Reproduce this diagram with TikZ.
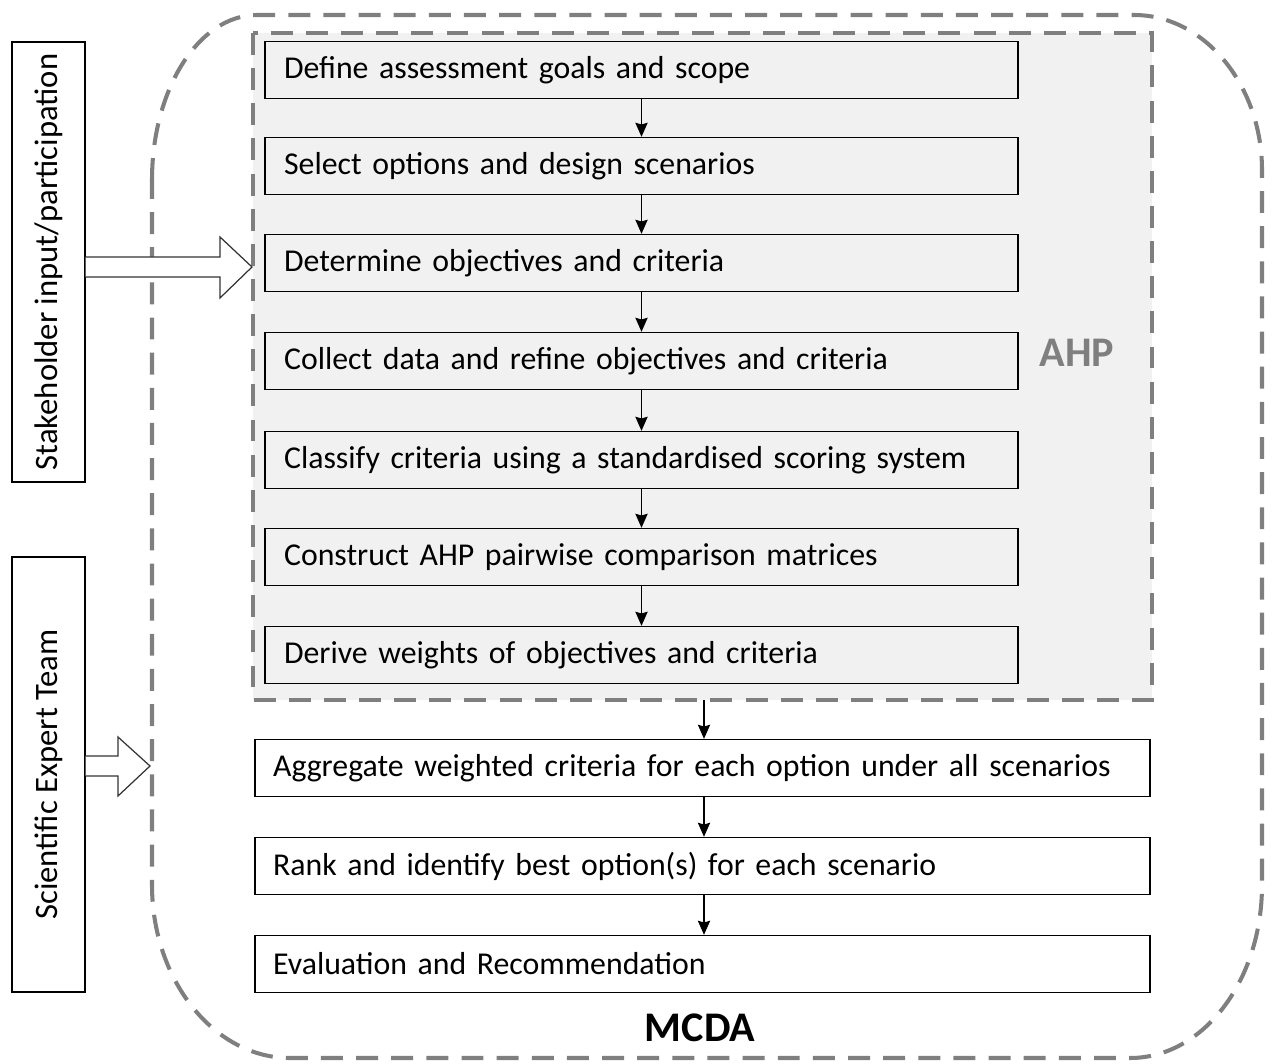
\documentclass[tikz,border=0pt]{standalone}
\usepackage{fontspec}
\setmainfont{Carlito}
\usetikzlibrary{arrows.meta,calc}
\definecolor{dgray}{HTML}{7F7F7F}
\definecolor{ahpfill}{HTML}{F1F1F1}
\begin{document}
\begin{tikzpicture}[x=0.02cm,y=-0.02cm,
  txt/.style={font=\fontsize{18.1}{21}\selectfont},
  sidetxt/.style={font=\fontsize{18.6}{21}\selectfont},
  ahpbox/.style={draw=black,line width=0.8pt,fill=ahpfill,minimum width=15.06cm,minimum height=1.14cm,text width=15.06cm-0.76cm,inner xsep=0.38cm,align=left,txt},
  lowbox/.style={draw=black,line width=0.8pt,fill=white,minimum width=17.9cm,minimum height=1.14cm,text width=17.9cm-0.72cm,inner xsep=0.36cm,align=left,txt},
  sidebox/.style={draw=black,line width=0.8pt,minimum width=1.46cm,inner sep=0pt},
  dashline/.style={draw=dgray,line width=2.3pt,dash pattern=on 12.5pt off 7.5pt},
  flow/.style={-{Stealth[length=8pt,width=7pt,inset=1pt]},line width=0.7pt},
  blockarrow/.style={fill=white,draw=none}]
\useasboundingbox (0,0) rectangle (1275,1064);
% outer MCDA region
\path[dashline] (152,180) .. controls (152,89) and (199,15) .. (257,15)
  -- (1134,15) .. controls (1205,15) and (1262,86) .. (1262,170)
  -- (1262,885) .. controls (1262,981) and (1203,1058) .. (1130,1058)
  -- (290,1058) .. controls (214,1058) and (152,980) .. (152,885) -- cycle;
% AHP region
\path[dashline,fill=ahpfill] (253,33) rectangle (1152,700);
\node[font=\fontsize{24}{28}\selectfont\bfseries,text=dgray] (ahp) at (1077,353) {AHP};
\coordinate (ahpbot) at (704,700);
% AHP steps
\node[ahpbox] (b1) at (641.5,70) {Define assessment goals and scope};
\node[ahpbox] (b2) at (641.5,166) {Select options and design scenarios};
\node[ahpbox] (b3) at (641.5,263) {Determine objectives and criteria};
\node[ahpbox] (b4) at (641.5,361) {Collect data and refine objectives and criteria};
\node[ahpbox] (b5) at (641.5,460) {Classify criteria using a standardised scoring system};
\node[ahpbox] (b6) at (641.5,557) {Construct AHP pairwise comparison matrices};
\node[ahpbox] (b7) at (641.5,655) {Derive weights of objectives and criteria};
% MCDA steps
\node[lowbox] (b8) at (702.5,768) {Aggregate weighted criteria for each option under all scenarios};
\node[lowbox] (b9) at (702.5,866) {Rank and identify best option(s) for each scenario};
\node[lowbox] (b10) at (702.5,964) {Evaluation and Recommendation};
\node[font=\fontsize{24}{28}\selectfont\bfseries] (mcda) at (700,1028) {MCDA};
% flow arrows
\foreach \a/\b in {b1/b2,b2/b3,b3/b4,b4/b5,b5/b6,b6/b7}{
  \draw[flow] (\a.south) -- (\b.north);
}
\draw[flow] (ahpbot) -- (ahpbot |- b8.north);
\draw[flow] (b8.south -| ahpbot) -- (b9.north -| ahpbot);
\draw[flow] (b9.south -| ahpbot) -- (b10.north -| ahpbot);
% side boxes
\node[sidebox,minimum height=8.8cm] (stake) at (48.5,262) {};
\node[sidetxt,rotate=90] (staketxt) at (stake.center) {Stakeholder input/participation};
\node[sidebox,minimum height=8.7cm] (sci) at (48.5,774.5) {};
\node[sidetxt,rotate=90] (scitxt) at (sci.center) {Scientific Expert Team};
% block arrows
\coordinate (sa) at (stake.east |- 0,267);
\path[blockarrow] ($(sa)+(0,-10)$) -- (220,257) -- (220,237) -- (252,267) -- (220,298) -- (220,277) -- ($(sa)+(0,10)$) -- cycle;
\draw[black!80,line width=0.7pt] ($(sa)+(0,-10)$) -- (220,257) -- (220,237) -- (252,267) -- (220,298) -- (220,277) -- ($(sa)+(0,10)$);
\coordinate (ea) at (sci.east |- 0,766);
\path[blockarrow] ($(ea)+(0,-10)$) -- (118,756) -- (118,737) -- (150,766) -- (118,796) -- (118,776) -- ($(ea)+(0,10)$) -- cycle;
\draw[black!80,line width=0.7pt] ($(ea)+(0,-10)$) -- (118,756) -- (118,737) -- (150,766) -- (118,796) -- (118,776) -- ($(ea)+(0,10)$);
\end{tikzpicture}
\end{document}
